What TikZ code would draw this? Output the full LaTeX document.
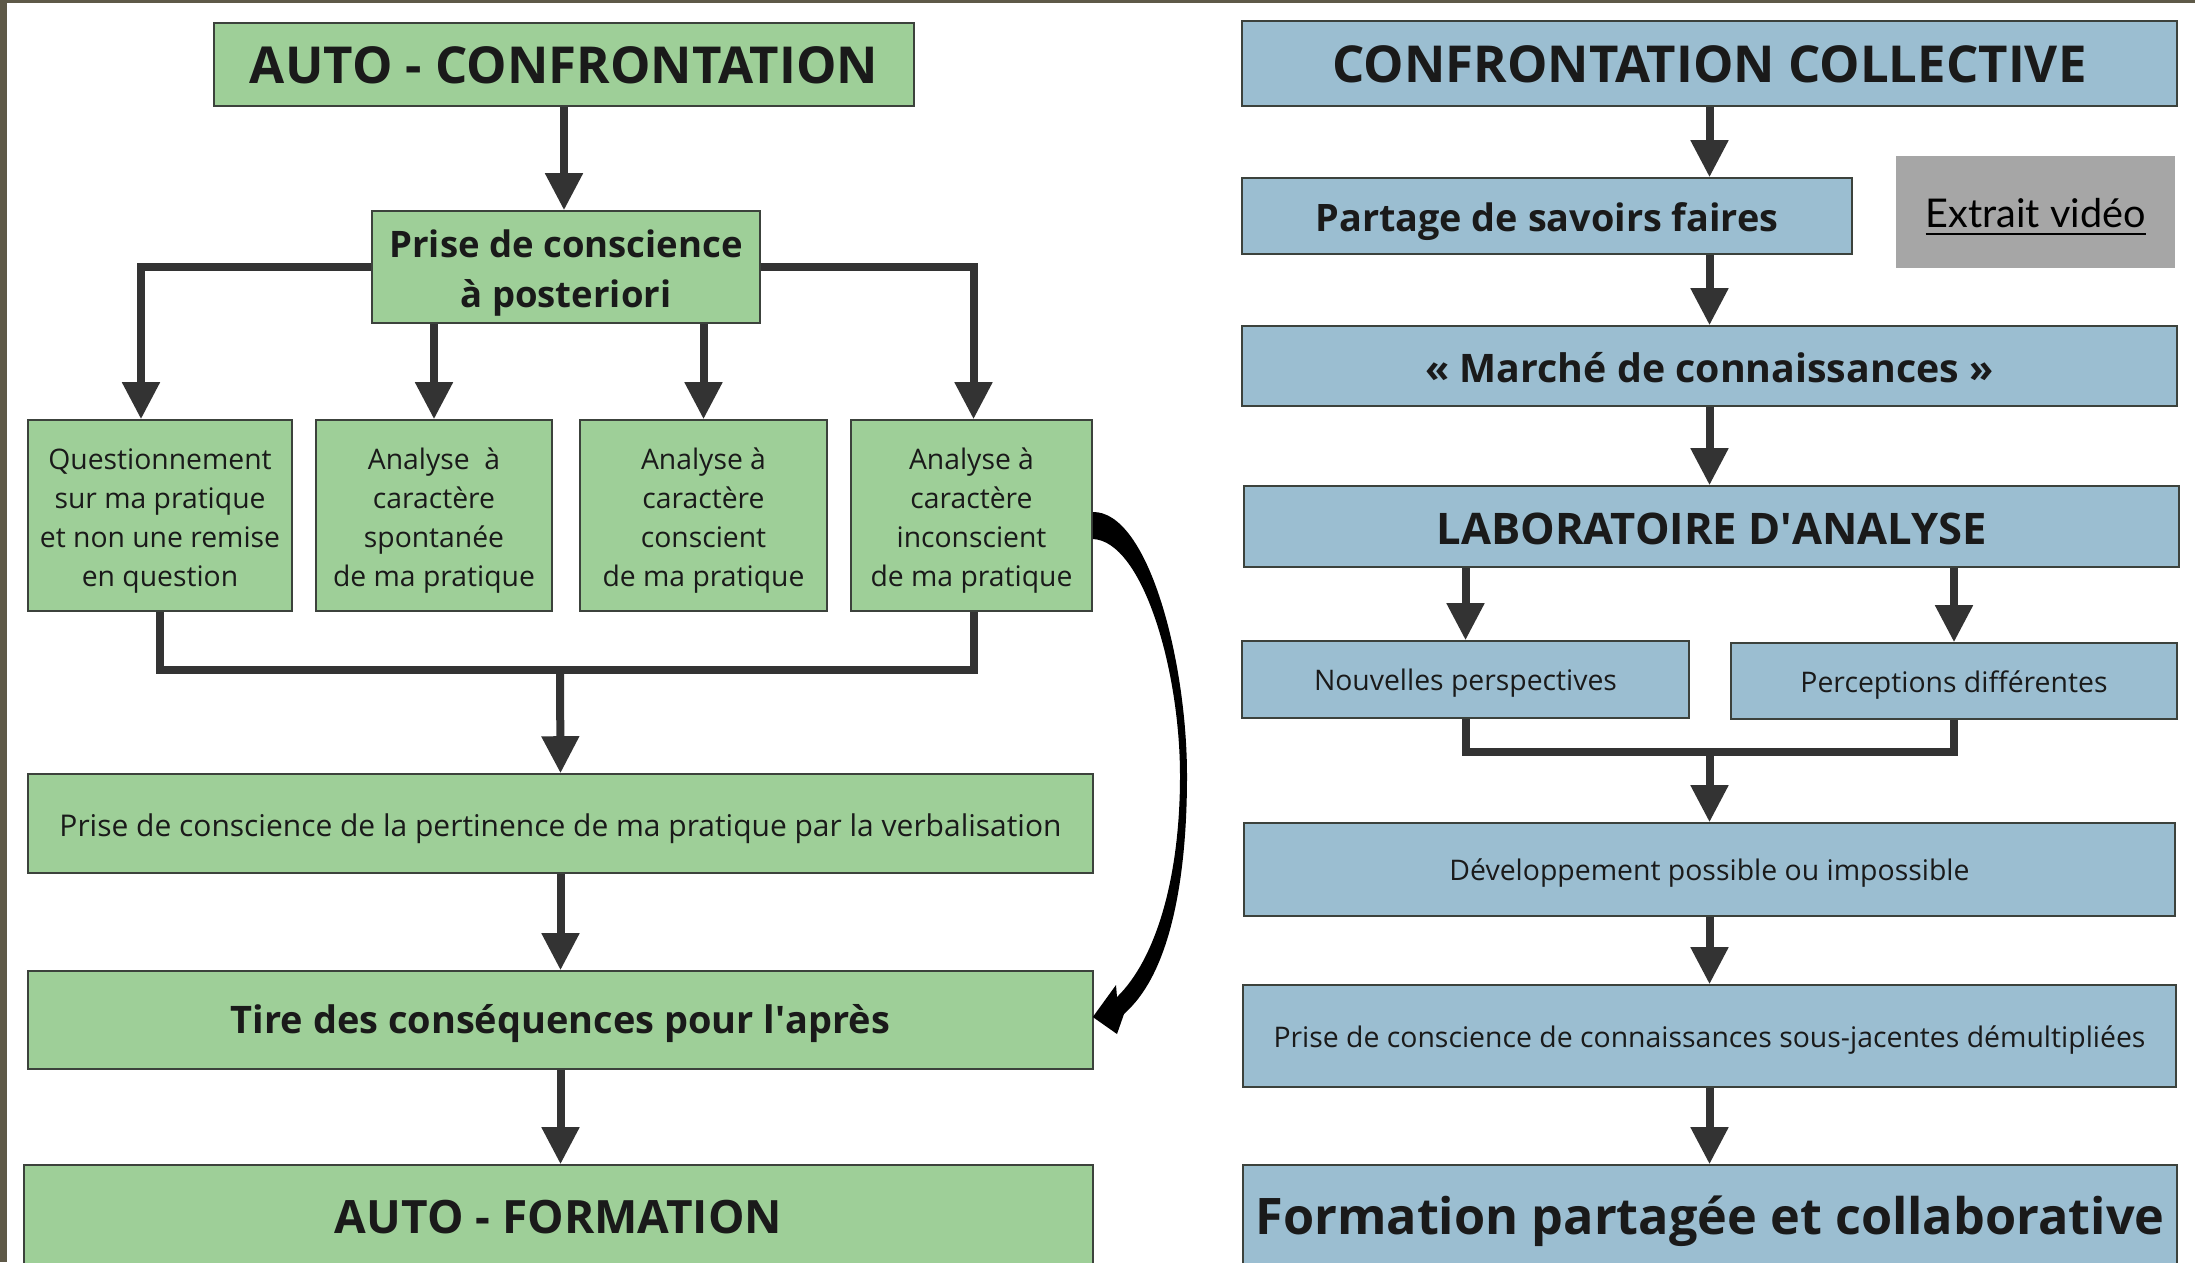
\documentclass[tikz,border=0pt]{standalone}
\usepackage{fontspec}
\setmainfont{Open Sans}
\newfontfamily\gillfont{Lato}
\usetikzlibrary{arrows.meta,calc}
\definecolor{gfill}{RGB}{158,207,152}
\definecolor{bfill}{RGB}{155,190,209}
\definecolor{greybox}{RGB}{166,166,166}
\definecolor{darr}{RGB}{51,51,51}
\definecolor{framecol}{RGB}{94,89,72}
\definecolor{txt}{RGB}{26,26,26}
\definecolor{edge}{RGB}{60,66,60}
\newcommand{\fw}[2]{\resizebox{#1pt}{!}{#2}}
\newcommand{\dn}[2]{\raisebox{-#1pt}[\height][\depth]{#2}}
\newcommand{\lines}[1]{\begin{tabular}{@{}c@{}}#1\end{tabular}}
\begin{document}
\begin{tikzpicture}[x=1pt,y=-1pt,
  box/.style={draw=edge, line width=1.6pt, text=txt, inner sep=0pt, anchor=center},
  gbx/.style={box, fill=gfill},
  bbx/.style={box, fill=bfill},
  small/.style={font=\fontsize{28.3}{39}\selectfont},
  arr/.style={draw=darr, line width=8pt, -{Triangle[width=36pt,length=37pt]}},
  conn/.style={draw=darr, line width=8pt, line join=miter},
]
\useasboundingbox (0,0) rectangle (2195,1262);
\fill[white] (0,0) rectangle (2195,1262);

% ---------------- left column ----------------
\node[gbx, minimum width=700pt, minimum height=83pt] (ac) at (564,64.5)
  {\dn{1}{\fw{628}{\bfseries AUTO - CONFRONTATION}}};
\node[gbx, minimum width=388pt, minimum height=112pt,
  font=\bfseries\fontsize{36.5}{50}\selectfont] (prise) at (566,267)
  {\dn{5.5}{\lines{Prise de conscience\\à posteriori}}};
\node[gbx, small, minimum width=264pt, minimum height=191pt] (b1) at (160,515.5)
  {\dn{5}{\lines{Questionnement\\sur ma pratique\\et non une remise\\en question}}};
\node[gbx, small, minimum width=236pt, minimum height=191pt] (b2) at (434,515.5)
  {\dn{5}{\lines{Analyse~ à\\caractère\\spontanée\\de ma pratique}}};
\node[gbx, small, minimum width=247pt, minimum height=191pt] (b3) at (703.5,515.5)
  {\dn{5}{\lines{Analyse à\\caractère\\conscient\\de ma pratique}}};
\node[gbx, small, minimum width=241pt, minimum height=191pt] (b4) at (971.5,515.5)
  {\dn{5}{\lines{Analyse à\\caractère\\inconscient\\de ma pratique}}};
\node[gbx, minimum width=1065pt, minimum height=99pt] (pert) at (560.5,823.5)
  {\dn{5.5}{\fw{1002}{Prise de conscience de la pertinence de ma pratique par la verbalisation}}};
\node[gbx, minimum width=1065pt, minimum height=98pt] (tire) at (560.5,1020)
  {\dn{4}{\fw{659}{\bfseries Tire des conséquences pour l\textquotesingle après}}};
\node[gbx, minimum width=1069pt, minimum height=105pt] (af) at (558.5,1217.5)
  {\fw{447}{\bfseries AUTO - FORMATION}};

\coordinate (jl) at (560,670);
\draw[arr] (ac.south) -- (ac.south |- prise.north);
\draw[arr] (prise.west) -| ([xshift=-19pt]b1.north);
\draw[arr] (b2.north |- prise.south) -- (b2.north);
\draw[arr] (b3.north |- prise.south) -- (b3.north);
\draw[arr] (prise.east) -| ([xshift=2pt]b4.north);
\draw[conn] (b1.south) |- (jl) -| ([xshift=2pt]b4.south);
\draw[arr] (jl) -- (pert.north);
\draw[arr] (pert.south) -- (tire.north);
\draw[arr] (tire.south) -- (tire.south |- af.north);

% curved tapered arrow from b4 to tire
\fill[black] ($(b4.east)+(0,-3.5)$) .. controls (1148,511) and (1187,660) .. (1187,776)
  .. controls (1187,880) and (1170,965) .. (1132,1006)
  -- (1124,1014) -- (1117,1034) -- ($(tire.east)+(-1,-3)$) -- (1116,985) -- (1117,997)
  .. controls (1155,960) and (1180,880) .. (1180,776)
  .. controls (1180,668) and (1142,541) .. ($(b4.east)+(0,23.5)$) -- cycle;

% ---------------- right column ----------------
\node[bbx, minimum width=935pt, minimum height=85pt] (cc) at (1709.5,63.5)
  {\dn{1}{\fw{754}{\bfseries CONFRONTATION COLLECTIVE}}};
\node[bbx, minimum width=610pt, minimum height=76pt] (part) at (1547,216)
  {\dn{5.5}{\fw{463}{\bfseries Partage de savoirs faires}}};
\node[fill=greybox, text=black, inner sep=0pt, minimum width=279pt, minimum height=112pt] (ext) at (2035.5,212)
  {\dn{5.5}{\fw{220}{\gillfont\underline{Extrait vidéo}}}};
\node[bbx, minimum width=935pt, minimum height=80pt] (marche) at (1709.5,366)
  {\dn{1.5}{\fw{568}{\bfseries « Marché de connaissances »}}};
\node[bbx, minimum width=935pt, minimum height=81pt] (labo) at (1711.5,526.5)
  {\dn{2.5}{\fw{550}{\bfseries LABORATOIRE D\textquotesingle ANALYSE}}};
\node[bbx, minimum width=447pt, minimum height=77pt] (nouv) at (1465.5,679.5)
  {\dn{4}{\fw{303}{Nouvelles perspectives}}};
\node[bbx, minimum width=446pt, minimum height=76pt] (perc) at (1954,681)
  {\dn{4}{\fw{307}{Perceptions différentes}}};
\node[bbx, minimum width=931pt, minimum height=93pt] (dev) at (1709.5,869.5)
  {\dn{4}{\fw{520}{Développement possible ou impossible}}};
\node[bbx, minimum width=933pt, minimum height=102pt] (pcc) at (1709.5,1036)
  {\dn{4}{\fw{872}{Prise de conscience de connaissances sous-jacentes démultipliées}}};
\node[bbx, minimum width=934pt, minimum height=105pt] (fp) at (1710,1217.5)
  {\dn{4}{\fw{909}{\bfseries Formation partagée et collaborative}}};

\coordinate (jr) at (1709.5,752);
\draw[arr] (cc.south) -- (cc.south |- part.north);
\draw[arr] (cc.south |- part.south) -- (cc.south |- marche.north);
\draw[arr] (marche.south) -- (marche.south |- labo.north);
\draw[arr] (labo.south -| nouv.north) -- (nouv.north);
\draw[arr] (labo.south -| perc.north) -- (perc.north);
\draw[conn] (nouv.south) |- (jr) -| (perc.south);
\draw[arr] (jr) -- (dev.north);
\draw[arr] (dev.south) -- (pcc.north);
\draw[arr] (pcc.south) -- (pcc.south |- fp.north);

% frame strips
\fill[framecol] (0,0) rectangle (7,1262);
\fill[framecol] (0,0) rectangle (2195,3);
\end{tikzpicture}
\end{document}
